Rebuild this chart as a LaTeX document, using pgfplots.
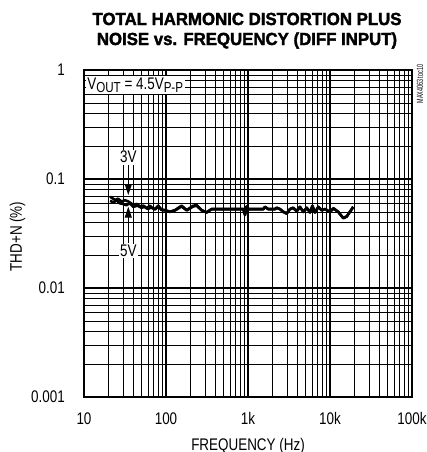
\documentclass[border=0pt]{standalone}
\usepackage{fontspec}
\setmainfont[FakeStretch=0.8]{Liberation Sans}
\newfontfamily\titlefont[FakeStretch=0.96,BoldFeatures={FakeBold=2}]{Liberation Sans}
\usepackage{graphicx}
\usepackage{pgfplots}
\pgfplotsset{compat=1.18}
\usetikzlibrary{arrows.meta,calc}

\pgfplotstableread{
f v
20.8 0.0689
23.9 0.0642
26 0.0660
28.8 0.0620
31.6 0.0640
35 0.0620
39.9 0.0580
44 0.0590
48.2 0.0560
53 0.0570
58.1 0.0540
63.8 0.0569
68 0.0540
73.5 0.0531
80.6 0.0569
88 0.0525
97.3 0.0519
112 0.0501
129 0.0519
155 0.0569
179 0.0519
215 0.0569
237 0.0575
272 0.0519
313 0.0495
360 0.0531
603 0.0531
877 0.0531
920 0.0467
960 0.0560
1000 0.0531
1540 0.0531
1610 0.0557
1770 0.0531
2130 0.0531
2240 0.0546
2455 0.0531
2700 0.0501
2960 0.0484
3250 0.0531
3560 0.0546
3930 0.0509
4300 0.0557
4730 0.0501
5200 0.0546
5700 0.0495
6100 0.0569
6560 0.0495
7200 0.0557
7920 0.0519
8700 0.0531
10000 0.0501
11000 0.0540
12600 0.0501
14500 0.0436
16000 0.0451
19200 0.0557
}\threev

\pgfplotstableread{
f v
20.8 0.0630
23 0.0610
25 0.0640
27 0.0600
30 0.0590
33 0.0575
36 0.0600
40 0.0555
45 0.0570
50 0.0545
55 0.0555
60 0.0530
66 0.0550
73.5 0.0525
80.6 0.0560
88 0.0520
97.3 0.0515
112 0.0498
129 0.0515
155 0.0560
179 0.0515
215 0.0560
237 0.0568
272 0.0515
313 0.0492
360 0.0528
603 0.0528
877 0.0528
920 0.0470
960 0.0555
1000 0.0528
1540 0.0528
1610 0.0552
1770 0.0528
2130 0.0528
2240 0.0542
2455 0.0528
2700 0.0498
2960 0.0480
3250 0.0528
3560 0.0542
3930 0.0505
4300 0.0552
4730 0.0498
5200 0.0542
5700 0.0492
6100 0.0562
6560 0.0492
7200 0.0552
7920 0.0515
8700 0.0528
10000 0.0498
11000 0.0535
12600 0.0498
14500 0.0440
16000 0.0455
19200 0.0552
}\fivev

\begin{document}
\begin{tikzpicture}[font=\fontsize{16.8}{19}\selectfont]
\begin{axis}[name=ax, at={(0,0)}, anchor=south west,
  width=328pt, height=327pt, scale only axis,
  xmode=log, ymode=log,
  xmin=10, xmax=100000, ymin=0.001, ymax=1,
  xtick={10,100,1000,10000,100000},
  xticklabels={10,100,1k,10k,100k},
  ytick={0.001,0.01,0.1,1},
  yticklabels={0.001,0.01,0.1,1},
  minor xtick={20,30,40,50,60,70,80,90,200,300,400,500,600,700,800,900,2000,3000,4000,5000,6000,7000,8000,9000,20000,30000,40000,50000,60000,70000,80000,90000},
  minor ytick={0.002,0.003,0.004,0.005,0.006,0.007,0.008,0.009,0.02,0.03,0.04,0.05,0.06,0.07,0.08,0.09,0.2,0.3,0.4,0.5,0.6,0.7,0.8,0.9},
  grid=both,
  major grid style={black, line width=1.1pt},
  minor grid style={black, line width=0.6pt},
  major tick length=0pt, minor tick length=0pt,
  axis line style={line width=2.4pt},
  xticklabel style={anchor=base, yshift=-27pt, inner sep=0pt},
  yticklabel style={anchor=east, xshift=-19pt, inner sep=0pt},
  /pgf/number format/assume math mode=true,
]
\addplot[black, line width=2.6pt, line join=round, no marks] table[x=f,y=v] {\fivev};
\addplot[black, line width=2.6pt, line join=round, no marks] table[x=f,y=v] {\threev};

\node[fill=white, anchor=west, inner xsep=1.5pt, inner ysep=1.5pt] at (rel axis cs:0.005,0.954)
  {V\raisebox{-0.3ex}{\fontsize{14.5}{14.5}\selectfont OUT} = 4.5V\raisebox{-0.3ex}{\fontsize{14.5}{14.5}\selectfont P-P}};
\node[fill=white, inner sep=1.5pt] (l3) at (axis cs:34.7,0.159) {3V};
\node[fill=white, inner sep=1.5pt] (l5) at (axis cs:34.7,0.0219) {5V};
\draw[line width=1pt, -{Triangle[width=7pt,length=11pt]}] (l3.south) -- (axis cs:34.7,0.0713);
\draw[line width=1pt, -{Triangle[width=7pt,length=11pt]}] (l5.north) -- (axis cs:34.7,0.0557);
\end{axis}

\node[anchor=base, font=\titlefont\bfseries\fontsize{17.5}{20}\selectfont] at ($(ax.north)+(-1pt,45pt)$) {TOTAL HARMONIC DISTORTION PLUS};
\node[anchor=base, font=\titlefont\bfseries\fontsize{17.5}{20}\selectfont] at ($(ax.north)+(-1pt,25pt)$) {NOISE vs. FREQUENCY (DIFF INPUT)};
\node[anchor=base] at ($(ax.south)+(0,-53pt)$) {FREQUENCY (Hz)};
\node[rotate=90] at ($(ax.south west)+(-66.5pt,160.5pt)$) {THD+N (\%)};
\node[rotate=90, font=\fontsize{9}{10}\selectfont] at ($(ax.south west)+(336pt,313pt)$) {\scalebox{0.75}[1]{MAX4063 toc10}};

\pgfresetboundingbox
\path[use as bounding box] ($(ax.south west)+(-84pt,-55pt)$) rectangle ($(ax.south west)+(343pt,397pt)$);
\end{tikzpicture}
\end{document}
